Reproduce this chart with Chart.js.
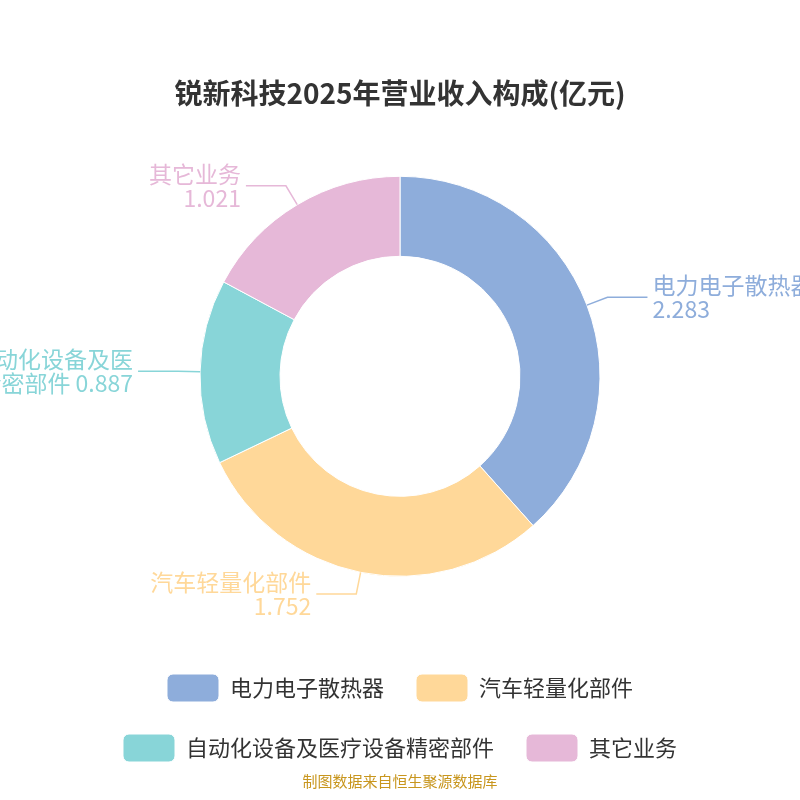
<!DOCTYPE html>
<html>
<head>
<meta charset="utf-8">
<script src="https://cdn.jsdelivr.net/npm/chart.js@4.4.0/dist/chart.umd.min.js"></script>
<style>
  html, body { margin: 0; padding: 0; background: #fff; }
  #wrap { width: 800px; height: 800px; position: relative; }
</style>
</head>
<body>
<div id="wrap"><canvas id="grafico"></canvas></div>
<script>
// Datos del gráfico
const categorias = ['电力电子散热器', '汽车轻量化部件', '自动化设备及医疗设备精密部件', '其它业务'];
const valores = [2.283, 1.752, 0.887, 1.021];
const colores = ['#8eaddb', '#ffd899', '#88d5d8', '#e6b8d8'];

const fuente = '"Noto Sans CJK SC", "Noto Sans", sans-serif';

// Etiquetas exteriores con líneas guía
const etiquetasExteriores = {
    id: 'etiquetasExteriores',
    afterDatasetsDraw(chart) {
        const ctx = chart.ctx;
        const meta = chart.getDatasetMeta(0);
        ctx.save();
        ctx.font = '23px ' + fuente;
        ctx.lineWidth = 1.5;
        meta.data.forEach((arc, i) => {
            const ang = (arc.startAngle + arc.endAngle) / 2;
            const cx = arc.x, cy = arc.y, r = arc.outerRadius;
            const dx = Math.cos(ang), dy = Math.sin(ang);
            const p0 = { x: cx + dx * r, y: cy + dy * r };
            const p1 = { x: cx + dx * (r + 22), y: cy + dy * (r + 22) };
            const der = dx >= 0;
            const p2 = { x: p1.x + (der ? 40 : -40), y: p1.y };
            ctx.strokeStyle = colores[i];
            ctx.beginPath();
            ctx.moveTo(p0.x, p0.y);
            ctx.lineTo(p1.x, p1.y);
            ctx.lineTo(p2.x, p2.y);
            ctx.stroke();

            const nombre = categorias[i];
            let lineas;
            if (nombre.length > 7) {
                lineas = [nombre.slice(0, 7), nombre.slice(7) + ' ' + valores[i]];
            } else {
                lineas = [nombre, String(valores[i])];
            }
            ctx.fillStyle = colores[i];
            ctx.textAlign = der ? 'left' : 'right';
            ctx.textBaseline = 'middle';
            const tx = p2.x + (der ? 5 : -5);
            ctx.fillText(lineas[0], tx, p2.y - 12);
            ctx.fillText(lineas[1], tx, p2.y + 12);
        });
        ctx.restore();
    }
};

new Chart(document.getElementById('grafico').getContext('2d'), {
    type: 'doughnut',
    data: {
        labels: categorias,
        datasets: [{
            data: valores,
            backgroundColor: colores,
            borderColor: '#ffffff',
            borderWidth: 1
        }]
    },
    options: {
        responsive: true,
        maintainAspectRatio: false,
        animation: false,
        radius: 200,
        cutout: '60%',
        layout: { padding: { top: 75, bottom: 10 } },
        plugins: {
            title: {
                display: true,
                text: '锐新科技2025年营业收入构成(亿元)',
                color: '#333',
                font: { size: 28, weight: 'bold', family: fuente },
                padding: { top: 2, bottom: 0 }
            },
            subtitle: {
                display: true,
                position: 'bottom',
                text: '制图数据来自恒生聚源数据库',
                color: '#c8961e',
                font: { size: 15, family: fuente },
                padding: { top: 0, bottom: 0 }
            },
            legend: {
                display: true,
                position: 'bottom',
                labels: {
                    boxWidth: 52,
                    boxHeight: 28,
                    useBorderRadius: true,
                    borderRadius: 6,
                    padding: 32,
                    color: '#333',
                    font: { size: 22, family: fuente }
                }
            },
            tooltip: { enabled: false }
        }
    },
    plugins: [etiquetasExteriores]
});
</script>
</body>
</html>
